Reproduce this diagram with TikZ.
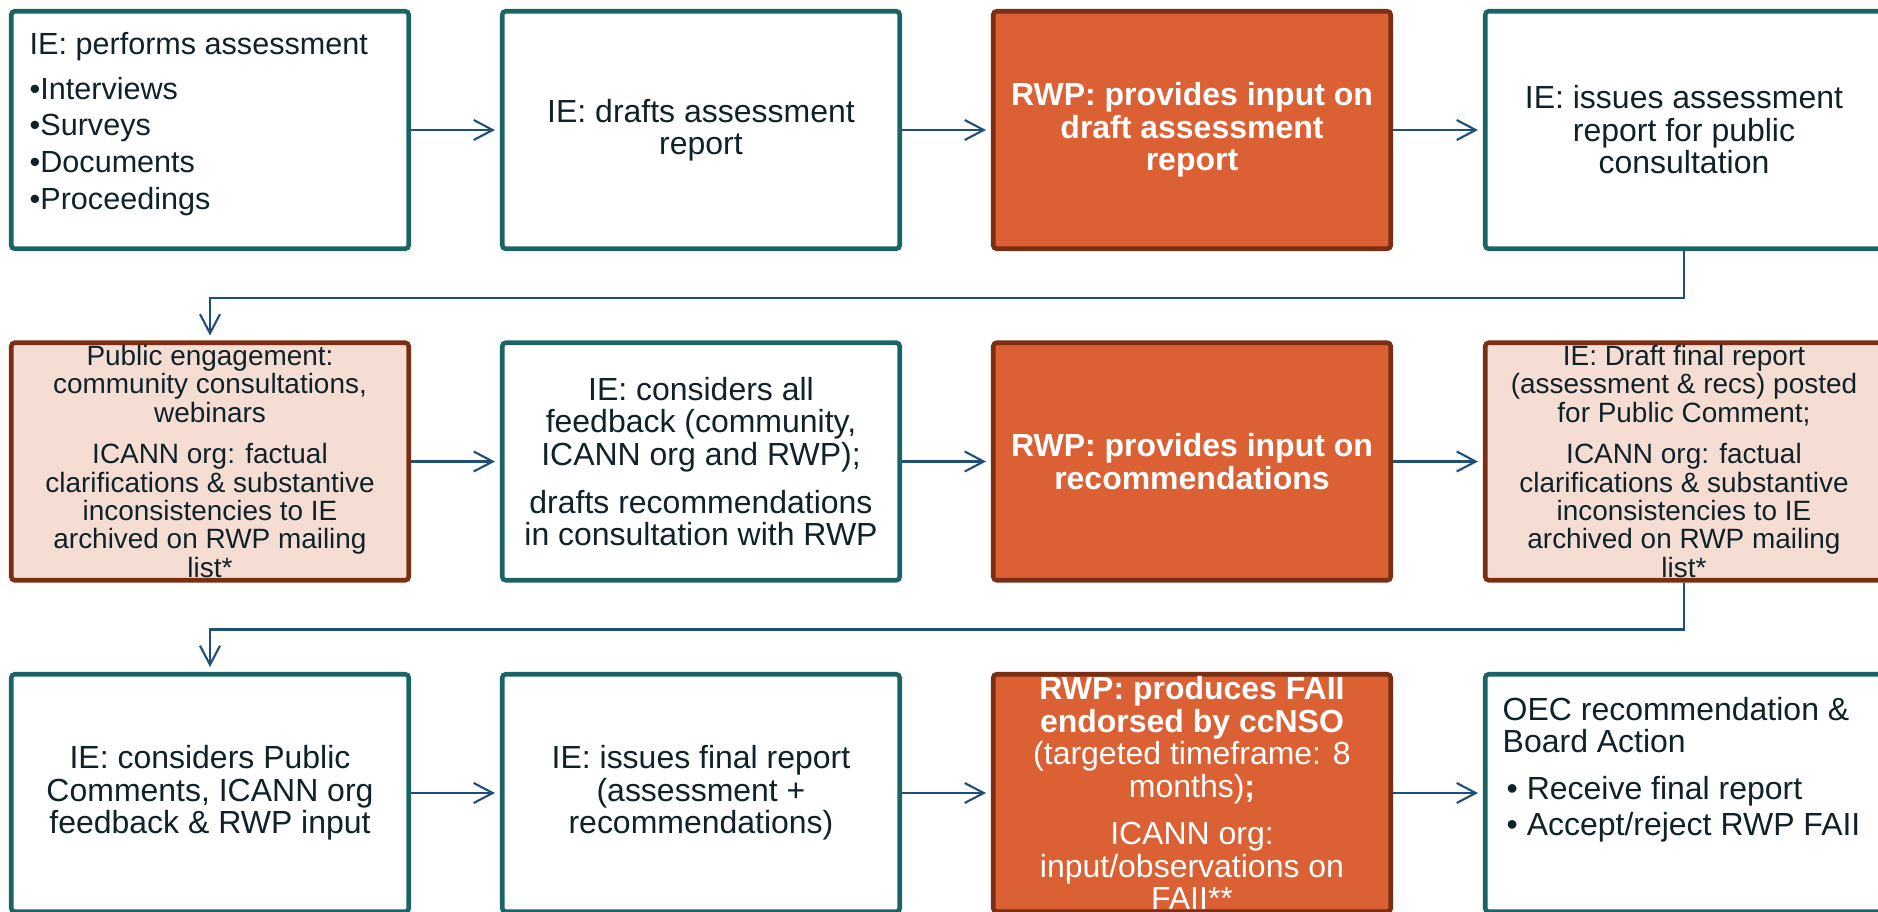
\documentclass[tikz,border=0pt]{standalone}
\usepackage{fontspec}
\setmainfont{Liberation Sans}
\usepackage{tikz}
\usetikzlibrary{arrows.meta}
\definecolor{ieteal}{HTML}{1B6466}
\definecolor{flowblue}{HTML}{1F4E79}
\definecolor{rwporange}{HTML}{DB6134}
\definecolor{rwpbrown}{HTML}{7A2E14}
\definecolor{pubpink}{HTML}{F6DDD3}
\definecolor{ink}{HTML}{102229}

\begin{document}
\begin{tikzpicture}[
    box/.style={draw=ieteal,line width=1.3pt,fill=white,rounded corners=1pt,
      minimum width=3.975cm,minimum height=2.375cm,inner sep=0pt,align=center,
      text=ink,font=\fontsize{9.1}{9.25}\selectfont},
    rwp/.style={box,draw=rwpbrown,fill=rwporange,text=white,font=\fontsize{9.1}{9.25}\selectfont\bfseries},
    pub/.style={box,draw=rwpbrown,fill=pubpink,font=\fontsize{7.95}{8.1}\selectfont},
    flow/.style={draw=flowblue,line width=0.6pt,-{Straight Barb[length=1.9mm,width=2mm]},shorten >=0.5mm}
  ]
  \clip (0,0) rectangle (18.78,-9.12);

  % first row
  \node[box] (perf) at (2.10,-1.30) {};
  \node[anchor=north west,align=left,inner sep=0pt,text=ink,font=\fontsize{8.7}{10.47}\selectfont] (perftext) at (0.29,-0.317)
    {IE: performs assessment\\[2.2pt] •Interviews\\ •Surveys\\ •Documents\\ •Proceedings};
  \node[box] (draft) at (7.01,-1.30) {IE: drafts assessment\\ report};
  \node[rwp] (rwpa) at (11.92,-1.30) {RWP: provides input on\\ draft assessment\\ report};
  \node[box] (issue) at (16.84,-1.30) {IE: issues assessment\\ report for public\\ consultation};

  % second row
  \node[pub] (engage) at (2.10,-4.615) {Public engagement:\\ community consultations,\\ webinars\\[3.6pt]
    ICANN org: factual\\ clarifications \& substantive\\ inconsistencies to IE\\ archived on RWP mailing\\ list*};
  \node[box] (consider) at (7.01,-4.615) {IE: considers all\\ feedback (community,\\ ICANN org and RWP);\\[4.3pt]
    drafts recommendations\\ in consultation with RWP};
  \node[rwp] (rwpb) at (11.92,-4.615) {RWP: provides input on\\ recommendations};
  \node[pub] (post) at (16.84,-4.615) {IE: Draft final report\\ (assessment \& recs) posted\\ for Public Comment;\\[3.6pt]
    ICANN org: factual\\ clarifications \& substantive\\ inconsistencies to IE\\ archived on RWP mailing\\ list*};

  % third row
  \node[box] (publ) at (2.10,-7.93) {IE: considers Public\\ Comments, ICANN org\\ feedback \& RWP input};
  \node[box] (final) at (7.01,-7.93) {IE: issues final report\\ (assessment +\\ recommendations)};
  \node[rwp] (faii) at (11.92,-7.93) {RWP: produces FAII\\ endorsed by ccNSO\\ \mdseries(targeted timeframe: 8\\
    \mdseries months)\bfseries;\\[4.3pt] \mdseries ICANN org:\\ \mdseries input/observations on\\ \mdseries FAII**};
  \node[box] (oec) at (16.84,-7.93) {};
  \node[anchor=north west,align=left,inner sep=0pt,text=ink,font=\fontsize{9.1}{9.1}\selectfont] (oectext) at (15.02,-6.97)
    {OEC recommendation \&\\ Board Action\\[4.3pt] \hspace{0.04cm}• Receive final report\\[1.1pt] \hspace{0.04cm}• Accept/reject RWP FAII};

  \draw[flow] (perf) -- (draft);
  \draw[flow] (draft) -- (rwpa);
  \draw[flow] (rwpa) -- (issue);
  \draw[flow] (issue.south) -- ++(0,-0.47) -| (engage.north);
  \draw[flow] (engage) -- (consider);
  \draw[flow] (consider) -- (rwpb);
  \draw[flow] (rwpb) -- (post);
  \draw[flow] (post.south) -- ++(0,-0.47) -| (publ.north);
  \draw[flow] (publ) -- (final);
  \draw[flow] (final) -- (faii);
  \draw[flow] (faii) -- (oec);
\end{tikzpicture}
\end{document}
